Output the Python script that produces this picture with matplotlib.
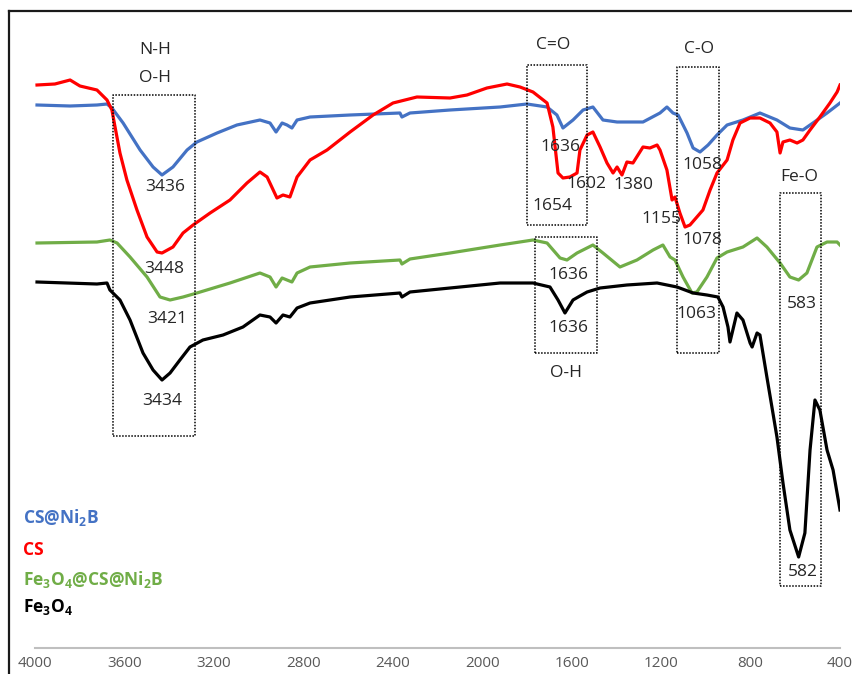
import matplotlib.pyplot as plt
from matplotlib.lines import Line2D

plt.rcParams['font.family'] = ['Open Sans', 'DejaVu Sans']
plt.rcParams['mathtext.default'] = 'regular'

# FTIR spectra, wavenumber (cm-1) and transmittance (arbitrary offset units)
wn_cs_ni2b = [3991, 3843, 3723, 3678, 3656, 3606, 3530, 3472, 3432, 3383, 3320, 3276, 3186,
              3097, 2994, 2949, 2922, 2895, 2873, 2851, 2828, 2770, 2591, 2368, 2359, 2323,
              2144, 1920, 1800, 1710, 1666, 1639, 1594, 1549, 1505, 1460, 1397, 1281, 1205,
              1174, 1147, 1124, 1084, 1057, 1026, 990, 950, 905, 834, 758, 682, 624, 566,
              521, 458, 400]
t_cs_ni2b = [543, 542, 543, 544, 540, 525, 498, 481, 473, 481, 498, 506, 515,
             523, 528, 525, 516, 525, 523, 520, 528, 531, 533, 535, 531, 535,
             538, 541, 544, 541, 533, 520, 528, 538, 541, 528, 526, 526, 535,
             541, 535, 533, 515, 500, 496, 503, 513, 523, 528, 535, 528, 520, 518,
             525, 535, 545]

wn_cs = [3991, 3911, 3843, 3799, 3723, 3678, 3656, 3642, 3620, 3589, 3544, 3499, 3454, 3432,
         3383, 3338, 3293, 3217, 3128, 3052, 2994, 2962, 2918, 2891, 2860, 2828, 2770, 2694,
         2591, 2488, 2399, 2292, 2144, 2068, 1979, 1889, 1831, 1773, 1710, 1684, 1661, 1639,
         1608, 1576, 1563, 1531, 1505, 1473, 1442, 1415, 1397, 1375, 1353, 1326, 1281, 1250,
         1218, 1205, 1174, 1151, 1138, 1116, 1093, 1071, 1040, 1013, 981, 950, 905, 879,
         847, 802, 758, 713, 682, 668, 655, 624, 592, 566, 534, 490, 445, 413, 400]
t_cs = [563, 564, 568, 562, 558, 548, 538, 521, 495, 468, 438, 411, 396, 395,
        401, 415, 423, 435, 448, 465, 476, 471, 450, 453, 451, 471, 488, 498,
        516, 533, 545, 551, 550, 553, 560, 564, 561, 556, 545, 521, 475, 470,
        471, 475, 498, 513, 516, 501, 485, 475, 481, 473, 486, 485, 501, 500,
        503, 498, 478, 448, 451, 435, 421, 423, 431, 438, 458, 475, 488, 508,
        525, 530, 530, 525, 516, 495, 506, 508, 505, 508, 518, 531, 545, 556, 563]

wn_fe_cs_ni2b = [3991, 3723, 3665, 3633, 3575, 3499, 3441, 3396, 3338, 3276, 3128, 2994, 2949,
                 2922, 2895, 2873, 2851, 2828, 2770, 2591, 2368, 2359, 2323, 2144, 1920, 1773,
                 1710, 1652, 1621, 1576, 1505, 1460, 1384, 1308, 1236, 1192, 1160, 1138, 1102,
                 1062, 1040, 995, 950, 905, 834, 771, 727, 668, 624, 585, 548, 503, 458, 413, 400]
t_fe_cs_ni2b = [405, 406, 408, 405, 391, 371, 351, 348, 351, 355, 365, 375, 371,
                361, 370, 368, 366, 375, 381, 385, 388, 384, 389, 395, 403, 408,
                405, 390, 388, 395, 403, 395, 381, 388, 398, 403, 391, 388, 371,
                355, 356, 371, 390, 396, 401, 410, 401, 385, 371, 368, 375, 401, 406, 406, 403]

wn_fe3o4 = [3991, 3723, 3678, 3665, 3620, 3575, 3517, 3472, 3432, 3396, 3352, 3307, 3249,
            3159, 3070, 2994, 2949, 2922, 2891, 2860, 2828, 2770, 2591, 2368, 2359, 2323,
            2144, 1920, 1773, 1697, 1661, 1630, 1594, 1563, 1531, 1473, 1353, 1218, 1129,
            1057, 995, 946, 923, 901, 892, 861, 834, 802, 793, 771, 758, 727, 682, 655,
            624, 585, 557, 534, 512, 490, 458, 431, 400]
t_fe3o4 = [366, 364, 365, 358, 348, 328, 295, 278, 268, 275, 288, 301, 308,
           313, 321, 333, 331, 325, 333, 331, 340, 345, 351, 355, 351, 356,
           360, 365, 365, 361, 348, 335, 348, 352, 356, 360, 363, 365, 361,
           355, 353, 351, 341, 321, 306, 335, 328, 305, 301, 315, 313, 271, 211, 165,
           118, 91, 115, 198, 248, 238, 198, 178, 138]

series = [
    (wn_cs_ni2b, t_cs_ni2b, '#4472c4', 'CS@Ni$_2$B'),
    (wn_cs, t_cs, '#ff0000', 'CS'),
    (wn_fe_cs_ni2b, t_fe_cs_ni2b, '#70ad47', 'Fe$_3$O$_4$@CS@Ni$_2$B'),
    (wn_fe3o4, t_fe3o4, '#000000', 'Fe$_3$O$_4$'),
]

# dotted boxes: (wn_left, wn_right, t_bottom, t_top)
boxes = [(3651, 3284, 212, 553), (1800, 1531, 423, 583), (1764, 1487, 295, 411),
         (1129, 941, 295, 581), (668, 485, 62, 455)]

# peak / band labels: (wn, t, text)
labels = [(3463, 598, 'N-H'), (3463, 570, 'O-H'), (3419, 461, '3436'), (3423, 379, '3448'),
          (3410, 329, '3421'), (3432, 247, '3434'), (1683, 603, 'C=O'), (1652, 501, '1636'),
          (1536, 464, '1602'), (1326, 463, '1380'), (1688, 442, '1654'), (1200, 429, '1155'),
          (1017, 408, '1078'), (1017, 483, '1058'), (1031, 599, 'C-O'), (583, 471, 'Fe-O'),
          (1616, 373, '1636'), (1616, 320, '1636'), (1040, 334, '1063'), (570, 344, '583'),
          (1625, 275, 'O-H'), (566, 76, '582')]

W, H = 853, 674
fig = plt.figure(figsize=(W / 100, H / 100), dpi=100)
ax = fig.add_axes([35 / W, (H - 648) / H, 805 / W, 648 / H])

for wn, t, color, name in series:
    ax.plot(wn, t, color=color, lw=2.3, solid_joinstyle='round')

for x0, x1, y0, y1 in boxes:
    ax.plot([x0, x1, x1, x0, x0], [y0, y0, y1, y1, y0], color='black', lw=1.1,
            linestyle=(0, (1, 1)))

for x, y, s in labels:
    ax.text(x, y, s, ha='center', va='center', fontsize=12.5, color='#262626')

ax.set_xlim(4000, 400)
ax.set_ylim(0, 648)
ax.set_xticks(range(4000, 399, -400))
ax.tick_params(axis='x', length=0, pad=6, labelsize=11, labelcolor='#595959')
ax.set_yticks([])
for side in ['top', 'left', 'right']:
    ax.spines[side].set_visible(False)
ax.spines['bottom'].set_color('#bfbfbf')
ax.spines['bottom'].set_linewidth(1.5)

# coloured legend text on the left
for (wn, t, color, name), yp in zip(series, [518, 550, 579, 607]):
    fig.text(23 / W, 1 - yp / H, name, color=color, fontsize=12.5, fontweight='bold',
             ha='left', va='center')

# outer frame (left and top edges visible)
fig.add_artist(Line2D([8.5 / W, 8.5 / W], [0, 1 - 11 / H], color='#1a1a1a', lw=1.6))
fig.add_artist(Line2D([8.5 / W, 1], [1 - 11 / H, 1 - 11 / H], color='#1a1a1a', lw=1.6))

fig.savefig('out.png', dpi=100)
